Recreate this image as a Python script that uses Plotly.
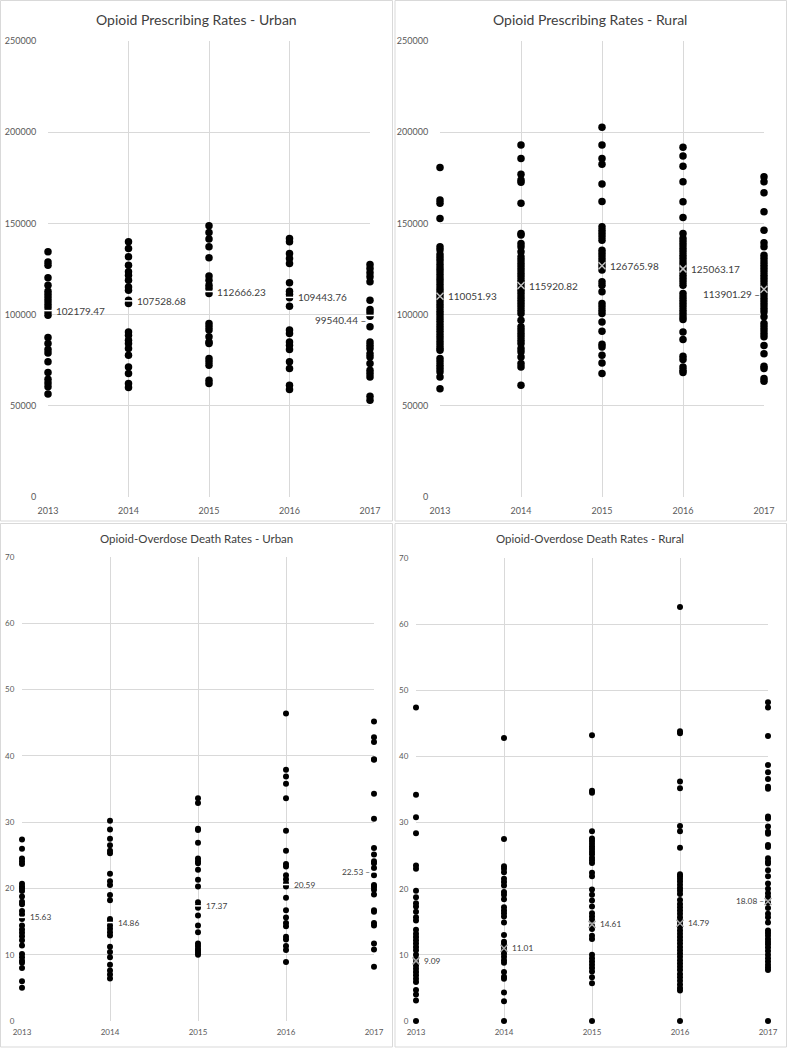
import plotly.graph_objects as go

W, H = 787, 1048
years = [2013, 2014, 2015, 2016, 2017]

# ---------------- Opioid prescribing rates - Urban ----------------
urban_rx_2013 = [134400, 128900, 127100, 120200, 116100, 112800, 111000, 109200, 107400, 105500,
                 103700, 101500, 99700, 87400, 84100, 80800, 79000, 74100, 68200, 64600, 62500, 60400, 56500]
urban_rx_2014 = [139900, 136300, 131700, 127100, 123500, 121600, 118900, 115200, 113400, 107900, 106100,
                 90500, 88700, 86000, 84100, 81400, 77700, 71300, 67700, 62200, 60000]
urban_rx_2015 = [148700, 145000, 141400, 137200, 131100, 121100, 118900, 116100, 114300, 111600,
                 95100, 93300, 91500, 87800, 85000, 84100, 75900, 74100, 72200, 64000, 62200]
urban_rx_2016 = [141700, 139900, 133500, 130800, 128000, 117400, 112800, 111200, 109200, 104600,
                 91500, 89600, 85000, 83200, 80800, 74100, 70400, 61300, 58900]
urban_rx_2017 = [127500, 125300, 122900, 120700, 118000, 107900, 102800, 101100, 99100, 93300,
                 85000, 83200, 81400, 78600, 76800, 73200, 69500, 67700, 65800, 55200, 53000]
urban_rx_means = [102179.47, 107528.68, 112666.23, 109443.76, 99540.44]

# ---------------- Opioid prescribing rates - Rural ----------------
rural_rx_2013 = [180700, 162800, 161000, 152700, 137200, 135500, 133000, 131200, 129500, 127400, 125600,
                 123900, 122000, 120100, 118400, 116500, 114600, 112900, 111000, 109200, 107400, 105500,
                 103700, 101800, 100000, 98200, 96400, 94500, 92700, 90900, 89000, 87200, 85300, 83500,
                 81700, 80400, 75900, 74100, 72200, 70400, 68600, 65800, 59400]
rural_rx_2014 = [193000, 185600, 177000, 173800, 172500, 161000, 144500, 143600, 139000, 137200, 134400,
                 131700, 129900, 128000, 126200, 124400, 122500, 120700, 118900, 117100, 115200, 113400,
                 111600, 109700, 107900, 106100, 104300, 102400, 100600, 96900, 93300, 91500, 89600,
                 87800, 86000, 84100, 81400, 79600, 76800, 73200, 71300, 61300]
rural_rx_2015 = [202700, 193000, 185600, 182400, 171600, 162000, 148100, 146300, 144500, 142700, 140800,
                 135300, 133500, 131700, 129900, 128000, 126200, 124400, 118000, 116100, 112500, 106100,
                 104300, 102400, 100600, 96000, 90900, 83800, 82300, 77700, 73500, 67700]
rural_rx_2016 = [191700, 186900, 181400, 172800, 161900, 153300, 144500, 141700, 139900, 138100, 136300,
                 134400, 132600, 130800, 128900, 127100, 125300, 123500, 121600, 119800, 118000, 116100,
                 111600, 109700, 107900, 106100, 104300, 102400, 100600, 98800, 97300, 90400, 86300,
                 77200, 75400, 71300, 69500, 68200]
rural_rx_2017 = [175600, 172800, 166800, 156400, 146300, 139400, 137200, 132600, 130800, 128900, 127100,
                 125300, 123500, 121600, 119800, 118000, 116100, 114300, 112500, 110700, 108800, 107000,
                 105200, 103300, 101500, 98800, 95100, 93300, 91500, 89600, 87800, 83000, 78600, 71700,
                 70400, 64900, 63500]
rural_rx_means = [110051.93, 115920.82, 126765.98, 125063.17, 113901.29]

# ---------------- Opioid-overdose death rates - Urban ----------------
urban_od_2013 = [27.4, 26.0, 24.5, 24.1, 23.7, 20.7, 20.3, 20.0, 19.6, 18.8, 18.0, 17.6, 16.6, 16.1,
                 15.4, 14.4, 13.8, 13.3, 12.8, 12.2, 11.4, 10.1, 9.6, 9.1, 8.8, 8.0, 6.0, 5.0]
urban_od_2014 = [30.2, 28.9, 27.5, 26.5, 25.7, 25.3, 22.2, 21.1, 20.5, 19.0, 18.2, 15.4, 15.0, 14.4,
                 13.9, 13.4, 12.9, 11.2, 10.4, 9.6, 8.5, 7.6, 7.0, 6.4]
urban_od_2015 = [33.6, 32.9, 29.0, 28.8, 26.9, 24.5, 24.1, 23.8, 22.8, 21.3, 20.3, 17.9, 17.4, 17.1,
                 15.9, 14.4, 13.4, 11.7, 11.3, 10.9, 10.6, 10.3, 10.0]
urban_od_2016 = [46.4, 37.9, 36.9, 35.8, 33.6, 28.7, 25.7, 23.7, 23.3, 22.0, 21.4, 20.8, 20.3, 18.6,
                 16.7, 15.6, 14.8, 14.3, 12.7, 12.3, 11.3, 10.7, 8.9]
urban_od_2017 = [45.2, 42.8, 42.1, 39.5, 39.4, 34.3, 30.5, 26.1, 25.1, 24.1, 23.8, 23.1, 22.0, 20.5,
                 20.2, 19.8, 19.1, 16.7, 16.5, 14.8, 14.4, 11.7, 10.8, 8.2]
urban_od_means = [15.63, 14.86, 17.37, 20.59, 22.53]

# ---------------- Opioid-overdose death rates - Rural ----------------
rural_od_2013 = [47.4, 34.2, 30.8, 28.4, 23.5, 23.0, 19.7, 18.7, 17.8, 17.3, 16.5, 15.7, 15.2, 13.8,
                 13.2, 12.7, 12.2, 11.7, 11.2, 10.7, 10.0, 9.4, 8.9, 8.4, 7.9, 7.4, 6.9, 6.4, 5.9,
                 4.7, 4.0, 3.1, 0.0]
rural_od_2014 = [42.8, 27.5, 23.4, 23.0, 22.5, 21.5, 21.0, 20.5, 19.5, 19.1, 18.4, 17.2, 16.7, 16.3,
                 15.8, 14.9, 13.0, 12.0, 11.6, 11.2, 10.7, 10.2, 9.7, 9.2, 8.8, 7.4, 6.7, 6.4, 4.3,
                 3.0, 0.0]
rural_od_2015 = [43.2, 34.8, 34.5, 28.7, 27.6, 27.2, 26.8, 26.4, 26.0, 25.6, 25.2, 24.7, 24.3, 23.9,
                 22.4, 21.9, 19.9, 19.1, 18.2, 17.3, 16.3, 15.8, 15.3, 14.4, 13.9, 12.9, 12.4, 10.0,
                 9.5, 9.0, 8.5, 8.0, 7.5, 6.6, 5.7, 0.0]
rural_od_2016 = [62.6, 43.8, 43.5, 36.2, 35.2, 29.5, 28.7, 26.2, 22.2, 21.9, 21.5, 21.1, 20.6, 20.1,
                 19.7, 19.2, 18.3, 17.7, 17.2, 16.7, 16.2, 15.7, 15.2, 14.7, 14.2, 13.7, 13.2, 12.7,
                 12.2, 11.7, 11.2, 10.7, 10.2, 9.7, 9.2, 8.7, 8.2, 7.7, 7.1, 6.6, 6.1, 5.5, 5.0,
                 4.6, 0.0]
rural_od_2017 = [48.2, 47.4, 43.1, 38.7, 37.6, 36.6, 35.4, 35.1, 30.9, 30.6, 29.4, 28.6, 28.3, 26.6,
                 26.3, 24.6, 24.1, 23.8, 22.8, 21.9, 20.8, 20.0, 19.3, 18.8, 17.9, 17.1, 16.2, 15.7,
                 14.9, 13.7, 13.3, 12.9, 12.4, 12.0, 11.6, 11.1, 10.6, 10.0, 9.5, 9.0, 8.5, 8.1,
                 7.7, 0.0]
rural_od_means = [9.09, 11.01, 14.61, 14.79, 18.08]

titles = ["Opioid Prescribing Rates - Urban", "Opioid Prescribing Rates - Rural",
          "Opioid-Overdose Death Rates - Urban", "Opioid-Overdose Death Rates - Rural"]

FONT = "Lato, 'Open Sans', sans-serif"
GRID = "#d9d9d9"
TXT = "#595959"

panels = [
    dict(data=[urban_rx_2013, urban_rx_2014, urban_rx_2015, urban_rx_2016, urban_rx_2017],
         means=urban_rx_means, fmt="{:.2f}", ymax=250000, dtick=50000,
         px=(48, 370), py=(41, 497), frame=(0.5, 0.5, 392.5, 521), title_y=19, title_x=196,
         tsize=14, tick=9, msize=7.5, lsize=10, mean_sym="line-ew", mean_col="white",
         last_shift=-5, ticklen_y=9, ticklen_x=5),
    dict(data=[rural_rx_2013, rural_rx_2014, rural_rx_2015, rural_rx_2016, rural_rx_2017],
         means=rural_rx_means, fmt="{:.2f}", ymax=250000, dtick=50000,
         px=(440, 764), py=(41, 497), frame=(395, 0.5, 786.5, 521), title_y=19, title_x=590,
         tsize=14, tick=9, msize=7.5, lsize=10, mean_sym="x-thin", mean_col="#bfbfbf",
         last_shift=-5, ticklen_y=9, ticklen_x=5),
    dict(data=[urban_od_2013, urban_od_2014, urban_od_2015, urban_od_2016, urban_od_2017],
         means=urban_od_means, fmt="{:.2f}", ymax=70, dtick=10,
         px=(22, 374), py=(557, 1021), frame=(0.5, 523.5, 392.5, 1047), title_y=538, title_x=196,
         tsize=11.5, tick=8, msize=6, lsize=8.3, mean_sym="line-ew", mean_col="white",
         last_shift=0, ticklen_y=5, ticklen_x=3),
    dict(data=[rural_od_2013, rural_od_2014, rural_od_2015, rural_od_2016, rural_od_2017],
         means=rural_od_means, fmt="{:.2f}", ymax=70, dtick=10,
         px=(416, 768), py=(558, 1021), frame=(395, 523.5, 786.5, 1047), title_y=538, title_x=590,
         tsize=11.5, tick=8, msize=6, lsize=8.3, mean_sym="x-thin", mean_col="#a6a6a6",
         last_shift=0, ticklen_y=5, ticklen_x=3),
]

fig = go.Figure()
shapes = []
annotations = []
layout_axes = {}

for i, p in enumerate(panels):
    n = "" if i == 0 else str(i + 1)
    xa, ya = "x" + n, "y" + n
    for yr, vals in zip(years, p["data"]):
        fig.add_trace(go.Scatter(
            x=[yr] * len(vals), y=vals, mode="markers", xaxis=xa, yaxis=ya,
            marker=dict(color="black", size=p["msize"]), cliponaxis=False,
            showlegend=False, hoverinfo="y"))
    fig.add_trace(go.Scatter(
        x=years, y=p["means"], mode="markers", xaxis=xa, yaxis=ya,
        marker=dict(symbol=p["mean_sym"], size=7,
                    line=dict(color=p["mean_col"], width=1.5), color=p["mean_col"]),
        cliponaxis=False, showlegend=False, hoverinfo="y"))
    for k, (yr, m) in enumerate(zip(years, p["means"])):
        label = p["fmt"].format(m)
        if k == len(years) - 1:
            annotations.append(dict(x=yr, y=m, xref=xa, yref=ya, text=label + " \u2013",
                                    showarrow=False, xanchor="right", yanchor="middle",
                                    xshift=-2, yshift=p["last_shift"],
                                    font=dict(family=FONT, size=p["lsize"], color="#404040")))
        else:
            annotations.append(dict(x=yr, y=m, xref=xa, yref=ya, text=label,
                                    showarrow=False, xanchor="left", yanchor="middle",
                                    xshift=6,
                                    font=dict(family=FONT, size=p["lsize"], color="#404040")))
    x0, x1 = p["px"]
    yt, yb = p["py"]
    layout_axes["xaxis" + n] = dict(
        domain=[x0 / W, x1 / W], range=[2013, 2017], anchor=ya, tickvals=years,
        ticktext=[str(y) for y in years], showgrid=True, gridcolor=GRID, gridwidth=1,
        zeroline=False, showline=False, ticks="outside", ticklen=p["ticklen_x"],
        tickcolor="rgba(0,0,0,0)", tickfont=dict(family=FONT, size=p["tick"], color=TXT),
        fixedrange=True, automargin=False)
    layout_axes["yaxis" + n] = dict(
        domain=[1 - yb / H, 1 - yt / H], range=[0, p["ymax"]], anchor=xa, dtick=p["dtick"],
        tick0=0, showgrid=True, gridcolor=GRID, gridwidth=1, zeroline=False, showline=False,
        ticks="outside", ticklen=p["ticklen_y"], tickcolor="rgba(0,0,0,0)",
        tickformat="d", tickfont=dict(family=FONT, size=p["tick"], color=TXT), fixedrange=True,
        automargin=False)
    fx0, fy0, fx1, fy1 = p["frame"]
    shapes.append(dict(type="rect", xref="paper", yref="paper",
                       x0=fx0 / W, x1=fx1 / W, y0=1 - fy1 / H, y1=1 - fy0 / H,
                       line=dict(color="#d9d9d9", width=1), layer="below"))
    annotations.append(dict(x=p["title_x"] / W, y=1 - p["title_y"] / H, xref="paper", yref="paper",
                            text=titles[i], showarrow=False, xanchor="center", yanchor="middle",
                            font=dict(family=FONT, size=p["tsize"], color="#404040")))

fig.update_layout(
    width=W, height=H, margin=dict(l=0, r=0, t=0, b=0, autoexpand=False),
    paper_bgcolor="white", plot_bgcolor="white",
    shapes=shapes, annotations=annotations, **layout_axes)

fig.write_html("out.html", config={"displayModeBar": False},
               post_script="document.body.style.margin='0px';document.body.style.overflow='hidden';")
